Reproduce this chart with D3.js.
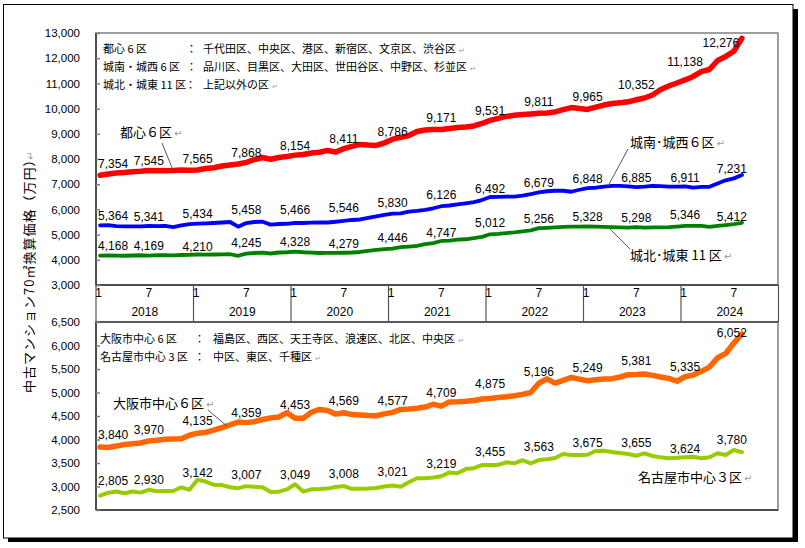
<!DOCTYPE html>
<html><head><meta charset="utf-8">
<script src="https://cdn.jsdelivr.net/npm/d3@7"></script>
<style>
html,body{margin:0;padding:0;background:#fff;}
svg{display:block;}
text{font-family:"Liberation Sans",Arial,sans-serif;}
.jp{font-family:"Noto Sans CJK JP",sans-serif;}
</style></head><body>
<svg id="c" width="805" height="548"></svg>
<script>
// ---------------- data ----------------
const years = [2018, 2019, 2020, 2021, 2022, 2023, 2024];
const monthTickLabels = [1, 7];
const tokyoTicks = [3000, 4000, 5000, 6000, 7000, 8000, 9000, 10000, 11000, 12000, 13000];
const kansaiTicks = [2500, 3000, 3500, 4000, 4500, 5000, 5500, 6000, 6500];
// monthly values, 2018-01 .. 2024-08 (万円)
const toshin6 = [7354,7405,7445,7465,7496,7512,7545,7530,7530,7540,7560,7550,
  7565,7620,7655,7720,7760,7800,7868,7980,8060,7990,8060,8100,
  8154,8180,8240,8270,8340,8280,8411,8500,8580,8555,8540,8640,
  8786,8860,8930,9090,9150,9170,9171,9210,9250,9270,9310,9410,
  9531,9610,9690,9735,9765,9785,9811,9825,9870,9960,10040,10000,
  9965,10060,10140,10200,10235,10270,10352,10420,10540,10760,10900,11015,
  11138,11275,11470,11550,11910,12070,12276,12790];
const jonan6 = [5364,5380,5340,5330,5325,5330,5341,5340,5345,5300,5370,5415,
  5434,5445,5460,5480,5500,5314,5458,5500,5512,5395,5420,5430,
  5466,5460,5473,5480,5480,5510,5546,5580,5600,5660,5720,5780,
  5830,5840,5910,5940,5980,6045,6126,6155,6195,6240,6290,6370,
  6492,6500,6510,6510,6550,6610,6679,6720,6740,6740,6700,6780,
  6848,6860,6900,6930,6930,6910,6885,6900,6930,6920,6900,6900,
  6911,6860,6890,6895,7030,7155,7231,7365];
const johoku11 = [4168,4175,4165,4160,4170,4180,4169,4185,4180,4175,4190,4195,
  4210,4205,4210,4215,4220,4160,4245,4270,4285,4250,4290,4300,
  4328,4300,4285,4270,4275,4275,4279,4290,4310,4350,4390,4420,
  4446,4500,4525,4550,4620,4660,4747,4760,4800,4815,4860,4910,
  5012,5025,5060,5090,5130,5170,5256,5270,5290,5310,5320,5320,
  5328,5320,5310,5300,5290,5280,5298,5280,5285,5290,5300,5320,
  5346,5350,5350,5310,5345,5380,5412,5470];
const osaka6 = [3840,3830,3860,3895,3910,3925,3970,3985,4005,4010,4015,4090,
  4135,4150,4200,4255,4310,4370,4359,4380,4425,4460,4480,4570,
  4453,4450,4580,4640,4615,4540,4569,4530,4520,4510,4505,4545,
  4577,4640,4650,4665,4690,4750,4709,4800,4805,4815,4830,4860,
  4875,4895,4910,4930,4960,5000,5196,5290,5200,5260,5320,5285,
  5249,5270,5285,5295,5330,5380,5381,5395,5365,5330,5300,5240,
  5335,5370,5450,5540,5740,5830,6052,6245];
const nagoya3 = [2805,2868,2895,2858,2895,2870,2930,2900,2905,2905,2980,2930,
  3142,3105,3035,3030,2985,2965,3007,2995,2985,2885,2890,2940,
  3049,2892,2940,2945,2955,2990,3008,2950,2950,2955,2970,3000,
  3021,2996,3090,3174,3174,3190,3219,3300,3283,3370,3390,3455,
  3455,3460,3515,3494,3560,3494,3563,3580,3605,3690,3672,3670,
  3675,3755,3762,3735,3712,3690,3655,3706,3649,3620,3600,3610,
  3624,3634,3602,3621,3706,3670,3780,3728];
const labelIdx = [0,6,12,18,24,30,36,42,48,54,60,66,72,78];

// ---------------- layout (not data) ----------------
const W = 805, H = 548;
const PL = 96, PR = 778;
const topPanel = {t:33, b:285};
const botPanel = {t:322, b:510};
const NMONTHS = 84;
const lift = {
  toshin6:[7.3,5.5,6.7,5.6,5.1,5.3,3.2,7.5,5.4,7.4,8.5,10.4,13.9,4.2],
  jonan6:[5.4,5.3,5.4,9.1,8.6,8.5,6.4,7.2,4.3,5,5.3,4.8,4.7,5.1],
  johoku11:[5.6,5.6,3.5,6.3,5.5,4.5,6.5,3.7,7.6,4.8,5.3,5.4,6.6,3.5],
  osaka6:[7.7,6.6,8.2,5.9,8.9,7.8,7.4,9.5,10.1,7.3,9.1,9.6,6.1,6.4],
  nagoya3:[10.7,5.5,3.1,6.9,4.9,7.8,9.5,7.9,9.1,9,8.1,8.4,4.5,5.8]
};

const svg = d3.select('#c');
// frame with shadow
svg.append('rect').attr('x',8).attr('y',9).attr('width',790).attr('height',533).attr('fill','#000');
svg.append('rect').attr('x',3.5).attr('y',4.5).attr('width',789.5).attr('height',533.5)
  .attr('fill','#fff').attr('stroke','#000').attr('stroke-width',1);

const x = d3.scaleBand().domain(d3.range(NMONTHS)).range([PL, PL + 8.125*NMONTHS]);
const xc = i => x(i) + x.bandwidth()/2;
const xf = f => PL + (f + 0.5) * x.bandwidth();
const yT = d3.scaleLinear().domain([3000,13000]).range([topPanel.b, topPanel.t]);
const yB = d3.scaleLinear().domain([2500,6500]).range([botPanel.b, botPanel.t]);
const fmt = d3.format(',');

function panelFrame(p){
  svg.append('rect').attr('x',PL).attr('y',p.t).attr('width',PR-PL).attr('height',p.b-p.t)
    .attr('fill','none').attr('stroke','#808080').attr('stroke-width',1.5);
  svg.append('line').attr('x1',PL).attr('x2',PL).attr('y1',p.t).attr('y2',p.b).attr('stroke','#333').attr('stroke-width',1.5);
  svg.append('line').attr('x1',PL).attr('x2',PR).attr('y1',p.b).attr('y2',p.b).attr('stroke','#333').attr('stroke-width',1.5);
}
panelFrame(topPanel);
panelFrame(botPanel);
svg.append('line').attr('x1',PL).attr('x2',PR).attr('y1',botPanel.t).attr('y2',botPanel.t).attr('stroke','#444').attr('stroke-width',1.5);

function yAxis(scale, ticks){
  const g = svg.append('g').attr('transform',`translate(${PL},0)`)
    .call(d3.axisLeft(scale).tickValues(ticks).tickSize(-4).tickPadding(16).tickFormat(fmt));
  g.select('.domain').remove();
  g.selectAll('.tick line').attr('stroke','#808080').attr('stroke-width',1.5);
  g.selectAll('.tick text').attr('font-size','11.5px').attr('fill','#000')
    .style('font-family','"Liberation Sans",Arial,sans-serif');
}
yAxis(yT, tokyoTicks);
yAxis(yB, kansaiTicks);

// x category axis (two levels) between panels
const yearW = 12 * x.bandwidth();
const xa = svg.append('g');
years.concat([years[years.length-1]+1]).forEach((yr, k) => {
  const bx = PL + k*yearW;
  xa.append('line').attr('x1',bx).attr('x2',bx).attr('y1',topPanel.b).attr('y2',botPanel.t)
    .attr('stroke','#555').attr('stroke-width',1.2);
});
years.forEach((yr, k) => {
  monthTickLabels.forEach(m => {
    const i = k*12 + (m-1);
    xa.append('text').attr('x', xc(i) - (m===1?1.5:0)).attr('y',297).attr('text-anchor','middle')
      .attr('font-size','12px').text(m);
  });
  xa.append('text').attr('x', PL + k*yearW + yearW/2).attr('y',316).attr('text-anchor','middle')
    .attr('font-size','12px').text(yr);
});

// lines
const series = [
  {key:'toshin6', vals:toshin6, y:yT, color:'#ff0000', w:5.5},
  {key:'jonan6', vals:jonan6, y:yT, color:'#0000ff', w:3.8},
  {key:'johoku11', vals:johoku11, y:yT, color:'#008000', w:3.8},
  {key:'osaka6', vals:osaka6, y:yB, color:'#ff6600', w:5.5},
  {key:'nagoya3', vals:nagoya3, y:yB, color:'#99cc00', w:4}
];
series.forEach(s => {
  const line = d3.line().x((d,i)=>xc(i)).y(d=>s.y(d));
  svg.append('path').attr('d', line(s.vals)).attr('fill','none').attr('stroke',s.color)
    .attr('stroke-width',s.w).attr('stroke-linejoin','round').attr('stroke-linecap','round');
});

// data labels
series.forEach(s => {
  labelIdx.forEach((idx, j) => {
    let dx = 0;
    if (j === 0) dx = 13;
    if (idx === 78) dx = (s.key==='toshin6') ? -13 : -2;
    svg.append('text').attr('x', xc(idx) + dx).attr('y', s.y(s.vals[idx]) - lift[s.key][j])
      .attr('text-anchor','middle').attr('font-size','12px').attr('fill','#000')
      .text(fmt(s.vals[idx]));
  });
});

// legends (definitions)
function defLine(x0, xc0, xl, y, name, list, size){
  svg.append('text').attr('class','jp').attr('x',x0).attr('y',y).attr('font-size',size+'px').text(name);
  svg.append('text').attr('class','jp').attr('x',xc0).attr('y',y).attr('font-size',size+'px').text('：');
  const t = svg.append('text').attr('class','jp').attr('x',xl).attr('y',y).attr('font-size',size+'px').text(list);
  const w = t.node().getComputedTextLength();
  svg.append('text').attr('x',xl+w+3).attr('y',y).attr('font-size','7px').attr('fill','#999')
    .style('font-family','"DejaVu Sans"').text('↵');
}
defLine(103, 186, 203, 53, '都心 6 区', '千代田区、中央区、港区、新宿区、文京区、渋谷区', 11);
defLine(103, 186, 203, 71, '城南・城西 6 区', '品川区、目黒区、大田区、世田谷区、中野区、杉並区', 11);
defLine(103, 185, 203, 89, '城北・城東 11 区', '上記以外の区', 11);
defLine(100, 194, 213, 343, '大阪市中心 6 区', '福島区、西区、天王寺区、浪速区、北区、中央区', 11);
defLine(100, 194, 213, 361, '名古屋市中心 3 区', '中区、東区、千種区', 11);

// callouts
function callout(tx, ty, text, lx1, ly1, f, s){
  const t = svg.append('text').attr('class','jp').attr('x',tx).attr('y',ty).attr('font-size','13px').text(text);
  const w = t.node().getComputedTextLength();
  svg.append('text').attr('x',tx+w+2).attr('y',ty).attr('font-size','10px').attr('fill','#999')
    .style('font-family','"DejaVu Sans"').text('↵');
  const i0 = Math.floor(f), fr = f - i0;
  const v = s.vals[i0]*(1-fr) + s.vals[i0+1]*fr;
  svg.append('line').attr('x1',lx1).attr('y1',ly1).attr('x2',xf(f)).attr('y2',s.y(v))
    .attr('stroke','#555').attr('stroke-width',1);
}
callout(120, 137, '都心６区', 162, 143, 9, series[0]);
callout(630, 147, '城南･城西６区', 628, 149, 62.5, series[1]);
callout(630, 260, '城北･城東 11 区', 630, 249, 62.5, series[2]);
callout(113, 408, '大阪市中心６区', 208, 410, 15.6, series[3]);
callout(638, 482, '名古屋市中心３区', 617, 453, 63.6, series[4]);

// y axis title
svg.append('text').attr('class','jp').attr('transform','translate(34,393) rotate(-90)')
  .attr('font-size','13px').style('letter-spacing','1px').text('中古マンション70㎡換算価格（万円）');
svg.append('text').attr('transform','translate(34,160) rotate(-90)').attr('font-size','10px').attr('fill','#999')
  .style('font-family','"DejaVu Sans"').text('↵');
</script>
</body></html>
